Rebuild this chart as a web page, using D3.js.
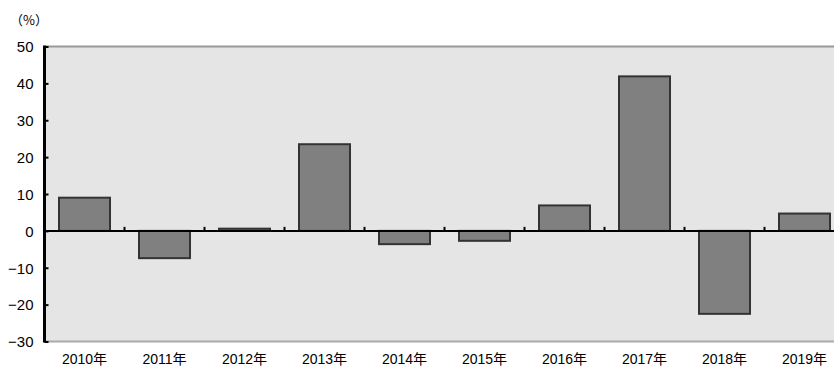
<!DOCTYPE html>
<html>
<head>
<meta charset="utf-8">
<script src="https://cdn.jsdelivr.net/npm/d3@7"></script>
<style>
  body { margin: 0; background: #fff; }
  text { font-family: "Liberation Sans", Arial, "Noto Sans CJK JP", sans-serif; fill: #000; }
</style>
</head>
<body>
<svg id="chart"></svg>
<script>
//data
var years = ['2010年', '2011年', '2012年', '2013年', '2014年', '2015年', '2016年', '2017年', '2018年', '2019年'];
var values = [9.0, -7.4, 0.6, 23.5, -3.6, -2.7, 6.9, 41.9, -22.5, 4.7];
var yTicks = [-30, -20, -10, 0, 10, 20, 30, 40, 50];

//chart parameters
var svg = d3.select('#chart')
    .attr('width', 834)
    .attr('height', 367);

var margin = {top: 46.5, left: 44.5},
    width = 800,
    height = 295;

//define scales
var xScale = d3.scaleBand().domain(years).range([0, width]).paddingInner(0.3625).paddingOuter(0.18125),
    yScale = d3.scaleLinear().domain([-30, 50]).range([height, 0]);

var canvas = svg.append('g')
    .attr('transform', 'translate(' + margin.left + ',' + margin.top + ')');

//plot background
canvas.append('rect')
    .attr('width', width)
    .attr('height', height)
    .attr('fill', '#e5e5e5');

//top and bottom borders
canvas.append('line')
    .attr('x1', 0).attr('x2', width)
    .attr('y1', 0).attr('y2', 0)
    .attr('stroke', '#999').attr('stroke-width', 2);
canvas.append('line')
    .attr('x1', 0).attr('x2', width)
    .attr('y1', height).attr('y2', height)
    .attr('stroke', '#aaa').attr('stroke-width', 2);

//bars
canvas.selectAll('.bar').data(values)
    .enter().append('rect')
        .attr('class', 'bar')
        .attr('x', (d, i) => xScale(years[i]))
        .attr('width', xScale.bandwidth())
        .attr('y', d => yScale(Math.max(0, d)))
        .attr('height', d => Math.abs(yScale(d) - yScale(0)))
        .attr('fill', '#808080')
        .attr('stroke', '#333')
        .attr('stroke-width', 2);

//zero line with category ticks
var step = xScale.step();
canvas.append('line')
    .attr('x1', 0).attr('x2', width)
    .attr('y1', yScale(0)).attr('y2', yScale(0))
    .attr('stroke', '#000').attr('stroke-width', 2);
canvas.selectAll('.ctick').data(d3.range(1, years.length))
    .enter().append('line')
        .attr('x1', d => d * step).attr('x2', d => d * step)
        .attr('y1', yScale(0)).attr('y2', yScale(0) - 4)
        .attr('stroke', '#000').attr('stroke-width', 2);

//y axis
var yAxis = canvas.append('g')
    .call(d3.axisLeft(yScale)
        .tickValues(yTicks)
        .tickSize(-4)
        .tickPadding(11)
        .tickFormat(d => d < 0 ? '−' + Math.abs(d) : d));
yAxis.select('.domain').attr('stroke-width', 3).attr('d', 'M0,-1V' + (height + 1));
yAxis.selectAll('.tick line').attr('stroke-width', 2);
yAxis.selectAll('.tick text')
    .style('font-size', '15px')
    .style('fill', '#000')
    .attr('dy', '0.35em');

//x labels
canvas.selectAll('.xlabel').data(years)
    .enter().append('text')
        .attr('class', 'xlabel')
        .attr('x', d => xScale(d) + xScale.bandwidth() / 2)
        .attr('y', height + 22)
        .attr('text-anchor', 'middle')
        .style('font-size', '14px')
        .text(d => d);

//unit label
svg.append('text')
    .attr('x', 10)
    .attr('y', 25)
    .style('font-family', '"Noto Sans CJK JP", sans-serif')
    .style('font-size', '13px')
    .text('（%）');
</script>
</body>
</html>
